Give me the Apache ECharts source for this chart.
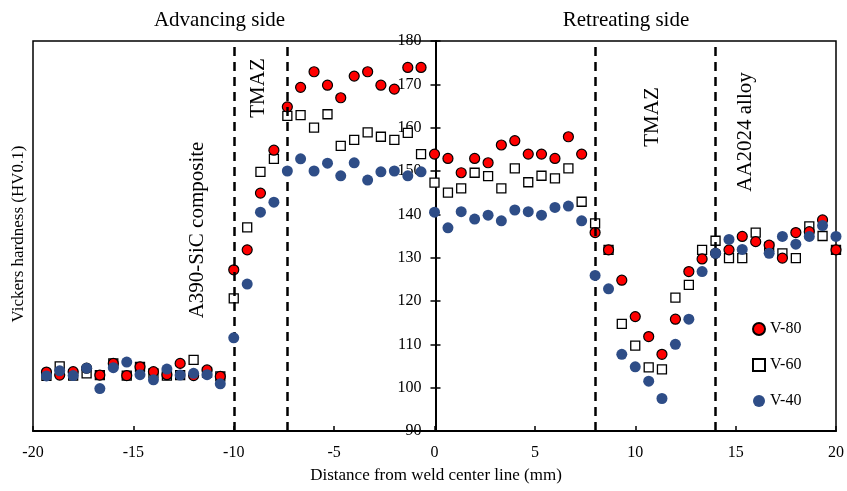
<!DOCTYPE html>
<html>
<head>
<meta charset="utf-8">
<script src="https://cdn.jsdelivr.net/npm/echarts@6/dist/echarts.min.js"></script>
<style>
html,body{margin:0;padding:0;background:#fff;}
#chart{width:847px;height:491px;}
</style>
</head>
<body>
<div id="chart"></div>
<script>
// Measurement positions (mm from weld center line)
const xPositions = [-19.33, -18.67, -18, -17.33, -16.67, -16, -15.33, -14.67, -14, -13.33, -12.67, -12, -11.33, -10.67,
  -10, -9.33, -8.67, -8, -7.33, -6.67, -6, -5.33, -4.67, -4, -3.33, -2.67, -2, -1.33, -0.67,
  0, 0.67, 1.33, 2, 2.67, 3.33, 4, 4.67, 5.33, 6, 6.67, 7.33, 8, 8.67, 9.33, 10, 10.67, 11.33, 12, 12.67, 13.33,
  14, 14.67, 15.33, 16, 16.67, 17.33, 18, 18.67, 19.33, 20];

const v80 = [103.6, 102.9, 103.7, 104.5, 102.9, 105.6, 102.8, 104.8, 103.7, 103.0, 105.6, 102.8, 104.1, 102.6,
  127.2, 131.8, 144.9, 154.8, 164.8, 169.3, 172.9, 169.8, 166.9, 171.9, 172.9, 169.8, 168.9, 173.9, 173.9,
  153.9, 152.9, 149.6, 152.9, 151.9, 156.0, 157.0, 153.9, 153.9, 152.9, 157.9, 153.9, 135.8, 131.8, 124.8, 116.4, 111.8, 107.7, 115.8, 126.8, 129.7,
  131.0, 131.8, 134.9, 133.7, 132.9, 129.9, 135.8, 136.0, 138.7, 131.8];

const v60 = [102.7, 104.9, 102.8, 103.3, 102.9, 105.6, 102.8, 104.8, 103.3, 102.8, 102.9, 106.4, 103.5, 102.6,
  120.6, 137.0, 149.8, 152.8, 162.7, 162.9, 160.0, 163.1, 155.8, 157.2, 158.9, 157.9, 157.2, 158.8, 153.9,
  147.3, 145.0, 146.0, 149.6, 148.8, 146.0, 150.6, 147.4, 148.9, 148.3, 150.6, 142.9, 137.9, 131.8, 114.7, 109.7, 104.7, 104.2, 120.8, 123.7, 131.8,
  133.9, 129.9, 129.9, 135.8, 132.5, 131.0, 129.9, 137.2, 135.0, 131.8];

const v40 = [102.7, 103.9, 102.8, 104.5, 99.8, 104.6, 105.9, 103.0, 101.8, 104.3, 102.9, 103.3, 103.0, 100.9,
  111.5, 123.9, 140.5, 142.8, 150.0, 152.8, 150.0, 151.8, 148.9, 151.9, 147.9, 149.8, 150.0, 148.9, 149.8,
  140.5, 136.9, 140.6, 138.9, 139.8, 138.5, 141.0, 140.6, 139.8, 141.6, 141.9, 138.5, 125.9, 122.8, 107.7, 104.8, 101.5, 97.5, 110.0, 115.8, 126.8,
  131.0, 134.2, 131.9, null, 131.0, 134.9, 133.1, 134.9, 137.4, 134.9];

const seriesNames = ['V-80', 'V-60', 'V-40'];
const zoneBoundaries = [-10, -7.35, 8, 14];
const xTicks = [-20, 20, 5];   // min, max, interval
const yTicks = [90, 180, 10];  // min, max, interval

const FONT = '"Liberation Serif", "Times New Roman", serif';

function pairs(vals) {
  const out = [];
  vals.forEach((v, i) => { if (v !== null) out.push([xPositions[i], v]); });
  return out;
}

const chart = echarts.init(document.getElementById('chart'));

// main plot box; the value axis is drawn through x = 0 (centre of the box)
const mainGrid = { left: 33, right: 9, top: 41, bottom: 60 };
const zeroGrid = { left: 33 + (847 - 33 - 9) / 2, right: 9, top: 41, bottom: 60 };

const yRange = { type: 'value', min: yTicks[0], max: yTicks[1], interval: yTicks[2], splitLine: { show: false } };
const xRange = { type: 'value', min: xTicks[0], max: xTicks[1], interval: xTicks[2], splitLine: { show: false } };

chart.setOption({
  animation: false,
  backgroundColor: '#fff',
  grid: [
    Object.assign({ show: true, borderColor: '#000', borderWidth: 1.5, backgroundColor: 'transparent' }, mainGrid),
    Object.assign({ show: false }, zeroGrid),
    Object.assign({ show: false }, zeroGrid)
  ],
  xAxis: [
    Object.assign({}, xRange, {
      gridIndex: 0,
      axisLine: { onZero: false, lineStyle: { color: '#000', width: 2 } },
      axisTick: { inside: true, length: 5, lineStyle: { color: '#000', width: 1.5 } },
      axisLabel: { color: '#000', fontFamily: FONT, fontSize: 16, margin: 14 }
    }),
    Object.assign({}, xRange, { gridIndex: 1, show: false, min: 0 }),
    Object.assign({}, xRange, { gridIndex: 2, show: false, min: 0 })
  ],
  yAxis: [
    Object.assign({}, yRange, { gridIndex: 0, show: false }),
    Object.assign({}, yRange, {
      gridIndex: 1, position: 'left',
      axisLine: { show: true, onZero: false, lineStyle: { color: '#000', width: 2 } },
      axisTick: { show: true, length: 5, lineStyle: { color: '#000', width: 1.5 } },
      axisLabel: { color: '#000', fontFamily: FONT, fontSize: 16, margin: 14 }
    }),
    Object.assign({}, yRange, {
      gridIndex: 2, position: 'left',
      axisLine: { show: false, onZero: false },
      axisTick: { show: true, inside: true, length: 5, lineStyle: { color: '#000', width: 1.5 } },
      axisLabel: { show: false }
    })
  ],
  legend: {
    data: seriesNames,
    orient: 'vertical',
    left: 747, top: 316,
    itemWidth: 12, itemHeight: 12, itemGap: 20,
    textStyle: { color: '#000', fontFamily: FONT, fontSize: 16 }
  },
  series: [
    {
      name: 'zones', type: 'line', data: [], silent: true, xAxisIndex: 0, yAxisIndex: 0,
      markLine: {
        silent: true, symbol: ['none', 'none'], label: { show: false },
        lineStyle: { color: '#000', type: [9, 6], width: 2.5 },
        data: zoneBoundaries.map(v => ({ xAxis: v }))
      }
    },
    {
      name: 'V-60', type: 'scatter', data: pairs(v60), symbol: 'rect', symbolSize: 9, z: 3,
      xAxisIndex: 0, yAxisIndex: 0,
      itemStyle: { color: '#fff', borderColor: '#000', borderWidth: 1.3, opacity: 1 }
    },
    {
      name: 'V-80', type: 'scatter', data: pairs(v80), symbol: 'circle', symbolSize: 10, z: 4,
      xAxisIndex: 0, yAxisIndex: 0,
      itemStyle: { color: '#ff0000', borderColor: '#000', borderWidth: 1.2, opacity: 1 }
    },
    {
      name: 'V-40', type: 'scatter', data: pairs(v40), symbol: 'circle', symbolSize: 11, z: 5,
      xAxisIndex: 0, yAxisIndex: 0,
      itemStyle: { color: '#2e4d87', opacity: 1 }
    }
  ],
  graphic: [
    { type: 'text', x: 219.5, y: 20, style: { text: 'Advancing side', font: '21px ' + FONT, fill: '#000', align: 'center', verticalAlign: 'middle', textAlign: 'center', textVerticalAlign: 'middle' } },
    { type: 'text', x: 626, y: 20, style: { text: 'Retreating side', font: '21px ' + FONT, fill: '#000', align: 'center', verticalAlign: 'middle', textAlign: 'center', textVerticalAlign: 'middle' } },
    { type: 'text', x: 436, y: 476, style: { text: 'Distance from weld center line (mm)', font: '17px ' + FONT, fill: '#000', align: 'center', verticalAlign: 'middle', textAlign: 'center', textVerticalAlign: 'middle' } },
    { type: 'text', x: 19, y: 234, rotation: Math.PI / 2, style: { text: 'Vickers hardness (HV0.1)', font: '17px ' + FONT, fill: '#000', align: 'center', verticalAlign: 'middle', textAlign: 'center', textVerticalAlign: 'middle' } },
    { type: 'text', x: 197, y: 230, rotation: Math.PI / 2, style: { text: 'A390-SiC composite', font: '21px ' + FONT, fill: '#000', align: 'center', verticalAlign: 'middle', textAlign: 'center', textVerticalAlign: 'middle' } },
    { type: 'text', x: 258, y: 88, rotation: Math.PI / 2, style: { text: 'TMAZ', font: '21px ' + FONT, fill: '#000', align: 'center', verticalAlign: 'middle', textAlign: 'center', textVerticalAlign: 'middle' } },
    { type: 'text', x: 652, y: 117, rotation: Math.PI / 2, style: { text: 'TMAZ', font: '21px ' + FONT, fill: '#000', align: 'center', verticalAlign: 'middle', textAlign: 'center', textVerticalAlign: 'middle' } },
    { type: 'text', x: 745, y: 132, rotation: Math.PI / 2, style: { text: 'AA2024 alloy', font: '21px ' + FONT, fill: '#000', align: 'center', verticalAlign: 'middle', textAlign: 'center', textVerticalAlign: 'middle' } }
  ]
});
</script>
</body>
</html>
